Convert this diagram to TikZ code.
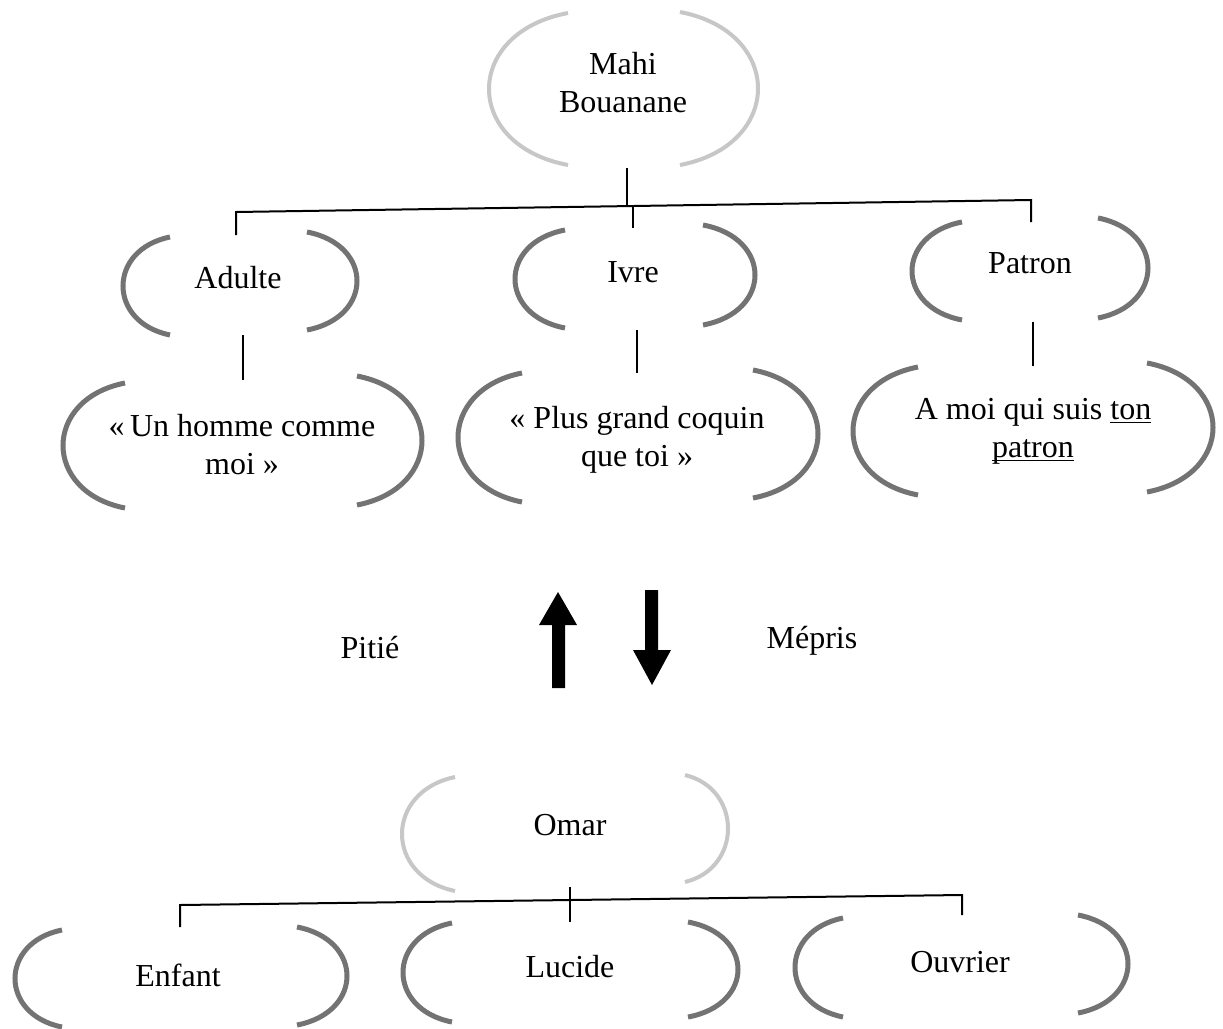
\documentclass[tikz,border=0pt]{standalone}
\usepackage{fontspec}
\setmainfont{Liberation Serif}
% curved bracket: style, end x, extreme x, top y, bottom y
\newcommand\bowline[5]{%
  \draw[#1] (#2,#4) .. controls ({#2-4/3*(#2-#3)},{#4+0.13*(#5-#4)})
    and ({#2-4/3*(#2-#3)},{#5-0.13*(#5-#4)}) .. (#2,#5);}
% underline set at a fixed depth below the baseline
\newcommand\uline[1]{\setbox0\hbox{#1}\rlap{\rule[-0.13em]{\wd0}{0.05em}}\box0}
\begin{document}
\begin{tikzpicture}[x=1pt,y=-1pt,
  lbl/.style={font=\fontsize{32}{38}\selectfont, align=center, inner sep=0pt},
  bow/.style={line width=5pt, draw=black!55},
  faint/.style={line width=4pt, draw=black!22},
  conn/.style={line width=2pt, draw=black},
  blockarrow/.style={fill=black}]
\useasboundingbox[fill=white] (0,0) rectangle (1223,1028);

% ---------- texts ----------
\node[lbl] (mahi)    at (623,83)  {Mahi\\Bouanane};
\node[lbl] (adulte)  at (238,278) {Adulte};
\node[lbl] (ivre)    at (633,272) {Ivre};
\node[lbl] (patron)  at (1030,263){Patron};
\node[lbl] (homme)   at (242,445) {«\,Un homme comme\\moi »};
\node[lbl] (coquin)  at (637,440) {« Plus grand coquin\\que toi »};
\node[lbl] (moi)     at (1033,431){A moi qui suis \uline{ton}\\\uline{patron}};
\node[lbl] (pitie)   at (370,648) {Pitié};
\node[lbl] (mepris)  at (812,641) {Mépris};
\node[lbl] (omar)    at (570,825) {Omar};
\node[lbl] (enfant)  at (178,975) {Enfant};
\node[lbl] (lucide)  at (570,967) {Lucide};
\node[lbl] (ouvrier) at (960,962) {Ouvrier};

% ---------- brackets ----------
\bowline{faint}{568}{489}{13}{165}  \bowline{faint}{680}{758}{12}{165}
\bowline{bow}{170}{123}{237}{335}   \bowline{bow}{307}{357}{232}{330}
\bowline{bow}{565}{515}{230}{328}   \bowline{bow}{703}{755}{225}{325}
\bowline{bow}{962}{912}{222}{320}   \bowline{bow}{1098}{1148}{218}{318}
\bowline{bow}{125}{63}{383}{508}    \bowline{bow}{357}{422}{376}{505}
\bowline{bow}{522}{458}{373}{502}   \bowline{bow}{753}{818}{370}{498}
\bowline{bow}{918}{853}{367}{495}   \bowline{bow}{1147}{1213}{363}{492}
\bowline{faint}{455}{402}{777}{891} \bowline{faint}{685}{728}{775}{882}
\bowline{bow}{62}{15}{930}{1027}    \bowline{bow}{297}{347}{927}{1025}
\bowline{bow}{452}{403}{923}{1022}  \bowline{bow}{688}{738}{922}{1017}
\bowline{bow}{843}{795}{918}{1017}  \bowline{bow}{1078}{1128}{915}{1013}

% ---------- upper tree ----------
\coordinate (mahiS)   at (627,168);
\coordinate (mahiJ)   at (627,206);
\coordinate (barL)    at (236,212);
\coordinate (barM)    at (633,206);
\coordinate (barR)    at (1031,200);
\coordinate (adulteN) at (236,235);
\coordinate (ivreN)   at (633,228);
\coordinate (patronN) at (1031,222);
\draw[conn] (mahiS) -- (mahiJ);
\draw[conn] (adulteN) -- (barL) -- (barR) -- (patronN);
\draw[conn] (barM) -- (ivreN);

\coordinate (adulteS) at (243,335);  \coordinate (hommeN)  at (243,380);
\coordinate (ivreS)   at (637,330);  \coordinate (coquinN) at (637,373);
\coordinate (patronS) at (1033,322); \coordinate (moiN)    at (1033,366);
\draw[conn] (adulteS) -- (hommeN);
\draw[conn] (ivreS) -- (coquinN);
\draw[conn] (patronS) -- (moiN);

% ---------- block arrows ----------
\fill[blockarrow] (552,688) -- (552,625) -- (539,625) -- (558,592)
  -- (577,625) -- (565,625) -- (565,688) -- cycle;
\fill[blockarrow] (645,590) -- (658,590) -- (658,650) -- (671,650)
  -- (652,685) -- (633,650) -- (645,650) -- cycle;

% ---------- lower tree ----------
\coordinate (omarS)    at (570,887);
\coordinate (lucideN)  at (570,922);
\coordinate (bbarL)    at (180,905);
\coordinate (bbarR)    at (962,895);
\coordinate (enfantN)  at (180,927);
\coordinate (ouvrierN) at (962,915);
\draw[conn] (omarS) -- (lucideN);
\draw[conn] (enfantN) -- (bbarL) -- (bbarR) -- (ouvrierN);
\end{tikzpicture}
\end{document}
